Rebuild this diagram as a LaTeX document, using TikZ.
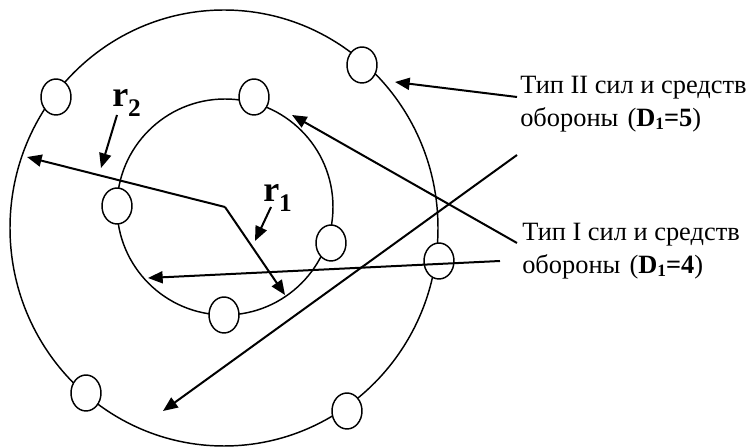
\documentclass[tikz,border=0pt]{standalone}
\usepackage{fontspec}
\setmainfont{Liberation Serif}
\usetikzlibrary{arrows.meta,shapes.geometric}
\begin{document}
\begin{tikzpicture}[x=0.75pt,y=-0.75pt,
  ring/.style={draw, line width=1.1pt, inner sep=0pt},
  unit/.style={draw, ellipse, line width=1.1pt, fill=white, minimum width=22.5pt, minimum height=27pt, inner sep=0pt},
  ptr/.style={-{Triangle[length=11pt,width=9pt]}, line width=1.5pt},
  lbl/.style={font=\fontsize{19.8}{24.75}\selectfont, align=left, anchor=base west, inner sep=0pt},
  rad/.style={font=\fontsize{27}{30}\selectfont\bfseries, anchor=base west, inner sep=0pt}]
\useasboundingbox (0,0) rectangle (751,448);
% zones of defence
\node[ring, ellipse, minimum width=321pt, minimum height=327pt] (outer) at (224,228) {};
\node[ring, circle, minimum size=162pt] (inner) at (225,207) {};
% units on the rings
\foreach \p [count=\i] in {(56,97),(362,65),(439,261),(347,411),(86,393),(254,97),(117,206),(331,243),(224,315)}
  \node[unit] (u\i) at \p {};
% radii
\coordinate (r2end) at (27,157);
\coordinate (r1end) at (285,295);
\draw[ptr] (inner.center) -- (r2end);
\draw[ptr] (inner.center) -- (r1end);
\node[rad] (r2) at (112,107) {r\raisebox{-7pt}{\fontsize{19}{20}\selectfont 2}};
\node[rad] (r1) at (263,202) {r\raisebox{-7pt}{\fontsize{19}{20}\selectfont 1}};
\coordinate (r2tip) at (101,168);
\coordinate (r1tip) at (255,241);
\draw[ptr] (117,115) -- (r2tip);
\draw[ptr] (271,207) -- (r1tip);
% labels (base = last line)
\node[lbl] (typeII) at (520,127) {Тип II сил и средств\\обороны\hspace{0.35em}(\textbf{D}\raisebox{-2pt}{\fontsize{13}{13}\selectfont\bfseries 1}\textbf{=5})};
\node[lbl] (typeI) at (522,274) {Тип I сил и средств\\обороны\hspace{0.35em}(\textbf{D}\raisebox{-2pt}{\fontsize{13}{13}\selectfont\bfseries 1}\textbf{=4})};
\coordinate (a1) at (517,97);   \coordinate (a1tip) at (395,82);
\coordinate (a2) at (517,243);  \coordinate (a2tip) at (292,115);
\coordinate (a3) at (500,261);  \coordinate (a3tip) at (148,278);
\coordinate (a4) at (517,155);  \coordinate (a4tip) at (163,411);
\draw[ptr] (a1) -- (a1tip);
\draw[ptr] (a2) -- (a2tip);
\draw[ptr] (a3) -- (a3tip);
\draw[ptr] (a4) -- (a4tip);
\end{tikzpicture}
\end{document}
